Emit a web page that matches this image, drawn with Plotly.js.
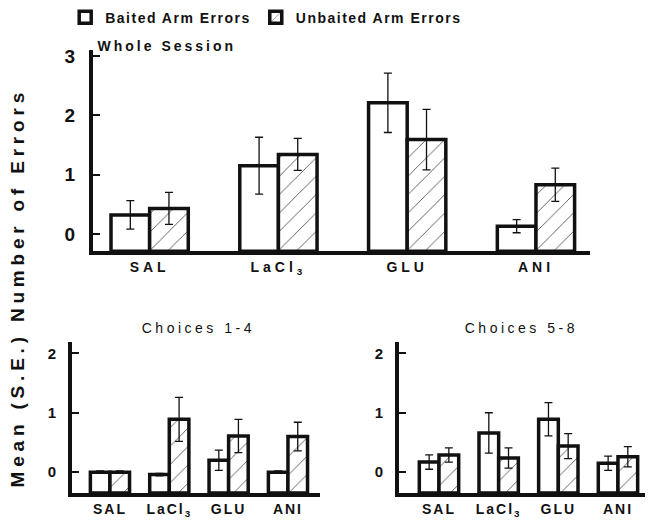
<!DOCTYPE html>
<html>
<head>
<meta charset="utf-8">
<script src="https://cdn.plot.ly/plotly-3.0.1.min.js"></script>
<style>
  html, body { margin: 0; padding: 0; background: #fff; }
  #chart { width: 652px; height: 521px; }
  .xtick text { letter-spacing: 4px; }
  .x2tick text, .x3tick text { letter-spacing: 2px; }
  .annotation[data-index="0"] text { letter-spacing: 4.8px; }
  .annotation[data-index="1"] text { letter-spacing: 3px; }
  .annotation[data-index="2"] text,
  .annotation[data-index="3"] text { letter-spacing: 3.5px; }
  .legendtext { letter-spacing: 1.5px; }
</style>
</head>
<body>
<div id="chart"></div>
<script>
// ---- data ----
const categories = ['SAL', 'LaCl<sub>3</sub>', 'GLU', 'ANI'];
const seriesNames = ['Baited Arm Errors', 'Unbaited Arm Errors'];

// Whole Session
const wholeBaited = [0.32, 1.15, 2.21, 0.13];
const wholeBaitedErr = [0.24, 0.48, 0.50, 0.11];
const wholeUnbaited = [0.43, 1.34, 1.59, 0.83];
const wholeUnbaitedErr = [0.27, 0.27, 0.51, 0.28];

// Choices 1-4
const c14Baited = [0.0, -0.04, 0.20, 0.0];
const c14BaitedErr = [0.02, 0.02, 0.17, 0.02];
const c14Unbaited = [0.0, 0.89, 0.61, 0.60];
const c14UnbaitedErr = [0.02, 0.37, 0.28, 0.24];

// Choices 5-8
const c58Baited = [0.17, 0.66, 0.89, 0.15];
const c58BaitedErr = [0.12, 0.34, 0.28, 0.12];
const c58Unbaited = [0.29, 0.24, 0.44, 0.26];
const c58UnbaitedErr = [0.12, 0.17, 0.21, 0.17];

// ---- styling ----
const FONT = '"Liberation Sans", Arial, Helvetica, sans-serif';
const INK = '#111';
const topRange = [-0.29, 3.1];
const botRange = [-0.35, 2.19];

function barTrace(vals, errs, base, xa, ya, hatched, width, name, showlegend) {
  return {
    type: 'bar',
    name: name,
    showlegend: showlegend,
    legendgroup: name,
    x: categories,
    y: vals.map(v => v - base),
    base: base,
    xaxis: xa, yaxis: ya,
    width: width,
    offset: hatched ? 0 : -width,
    marker: {
      color: '#fff',
      line: { color: INK, width: 3.5 },
      pattern: hatched ? { shape: '/', fgcolor: '#555', bgcolor: '#fff', size: 13, solidity: 0.07 } : { shape: '' }
    },
    error_y: { type: 'data', array: errs, visible: true, color: INK, thickness: 1.3, width: 4 },
    hoverinfo: 'skip'
  };
}

const wTop = 0.30, wBot = 0.33;
const data = [
  barTrace(wholeBaited, wholeBaitedErr, topRange[0], 'x', 'y', false, wTop, seriesNames[0], true),
  barTrace(wholeUnbaited, wholeUnbaitedErr, topRange[0], 'x', 'y', true, wTop, seriesNames[1], true),
  barTrace(c14Baited, c14BaitedErr, botRange[0], 'x2', 'y2', false, wBot, seriesNames[0], false),
  barTrace(c14Unbaited, c14UnbaitedErr, botRange[0], 'x2', 'y2', true, wBot, seriesNames[1], false),
  barTrace(c58Baited, c58BaitedErr, botRange[0], 'x3', 'y3', false, wBot, seriesNames[0], false),
  barTrace(c58Unbaited, c58UnbaitedErr, botRange[0], 'x3', 'y3', true, wBot, seriesNames[1], false)
];

function xAxis(domain, range, size, anchor) {
  return {
    domain: domain, range: range, anchor: anchor, type: 'category',
    showline: true, linewidth: 4, linecolor: INK,
    ticks: '', showgrid: false, zeroline: false, fixedrange: true,
    tickfont: { family: FONT, size: size, color: INK, weight: 'bold' }
  };
}
function yAxis(domain, range, tickvals, size, anchor, standoff) {
  return {
    domain: domain, range: range, anchor: anchor,
    showline: true, linewidth: 4, linecolor: INK,
    tickvals: tickvals, ticks: 'inside', ticklen: 7, tickwidth: 2, tickcolor: INK,
    ticklabelstandoff: standoff,
    showgrid: false, zeroline: false, fixedrange: true,
    tickfont: { family: FONT, size: size, color: INK, weight: 'bold' }
  };
}

const layout = {
  width: 652, height: 521,
  margin: { l: 0, r: 0, t: 0, b: 0 },
  paper_bgcolor: '#fff', plot_bgcolor: '#fff',
  font: { family: FONT, color: INK },
  barmode: 'group',
  xaxis: xAxis([0.1426, 0.905], [-0.44, 3.42], 14, 'y'),
  yaxis: yAxis([0.518, 0.904], topRange, [0, 1, 2, 3], 19, 'x', 10),
  xaxis2: xAxis([0.1104, 0.4908], [-0.64, 3.54], 14, 'y2'),
  yaxis2: yAxis([0.0537, 0.3436], botRange, [0, 1, 2], 15, 'x2', 9),
  xaxis3: xAxis([0.612, 0.989], [-0.67, 3.45], 14, 'y3'),
  yaxis3: yAxis([0.0537, 0.3436], botRange, [0, 1, 2], 15, 'x3', 9),
  showlegend: true,
  legend: {
    orientation: 'h', x: 0.1, y: 0.997, xanchor: 'left', yanchor: 'top',
    font: { family: FONT, size: 14, color: INK, weight: 'bold' },
    itemwidth: 30, bgcolor: 'rgba(0,0,0,0)', traceorder: 'normal'
  },
  annotations: [
    { text: 'Mean (S.E.) Number of Errors', xref: 'paper', yref: 'paper', x: 0.027, y: 0.448,
      textangle: -90, showarrow: false, xanchor: 'center', yanchor: 'middle',
      font: { family: FONT, size: 19, color: INK, weight: 'bold' } },
    { text: 'Whole Session', xref: 'paper', yref: 'paper', x: 0.177, y: 0.911,
      showarrow: false, xanchor: 'left', yanchor: 'middle',
      font: { family: FONT, size: 14, color: INK, weight: 'bold' } },
    { text: 'Choices 1-4', xref: 'paper', yref: 'paper', x: 0.305, y: 0.371,
      showarrow: false, xanchor: 'center', yanchor: 'middle',
      font: { family: FONT, size: 14, color: INK } },
    { text: 'Choices 5-8', xref: 'paper', yref: 'paper', x: 0.8, y: 0.371,
      showarrow: false, xanchor: 'center', yanchor: 'middle',
      font: { family: FONT, size: 14, color: INK } }
  ]
};

Plotly.newPlot('chart', data, layout, { staticPlot: true, displayModeBar: false });
</script>
</body>
</html>
